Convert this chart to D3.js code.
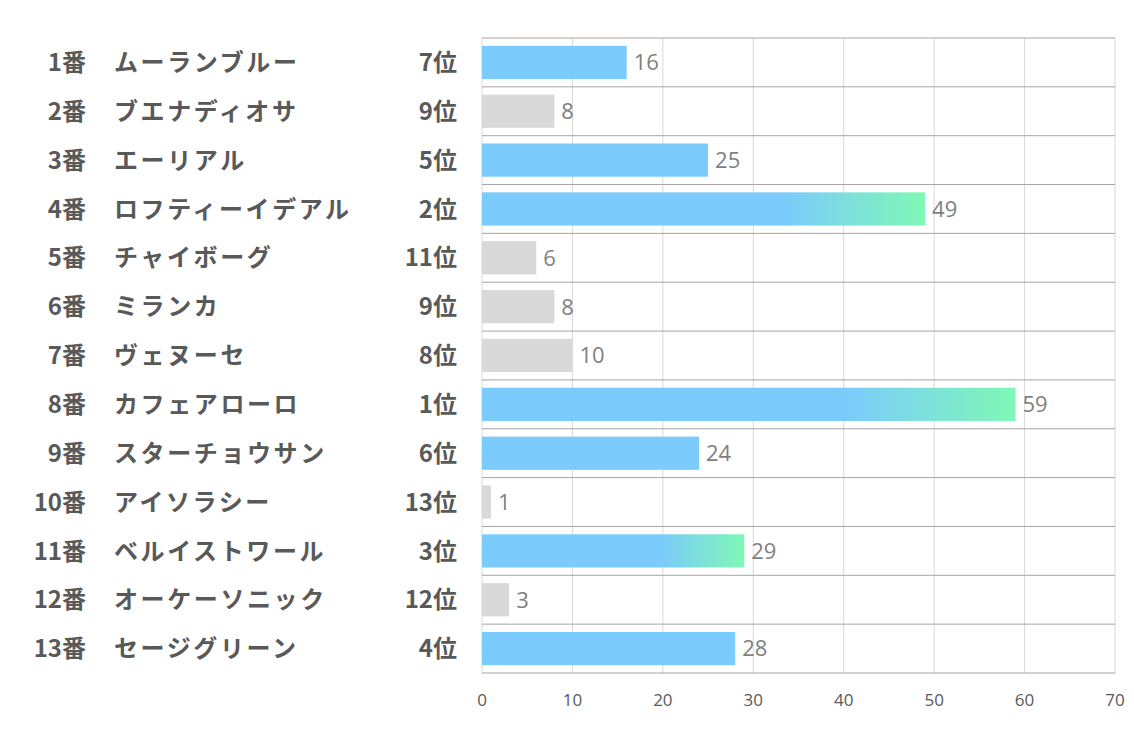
<!DOCTYPE html>
<html><head><meta charset="utf-8">
<script src="https://cdn.jsdelivr.net/npm/d3@7"></script>
<style>body{margin:0;background:#fff;}</style>
</head><body>
<svg id="c" width="1134" height="737"></svg>
<script>
const nums = ["1番","2番","3番","4番","5番","6番","7番","8番","9番","10番","11番","12番","13番"];
const names = ["ムーランブルー","ブエナディオサ","エーリアル","ロフティーイデアル","チャイボーグ","ミランカ","ヴェヌーセ","カフェアローロ","スターチョウサン","アイソラシー","ベルイストワール","オーケーソニック","セージグリーン"];
const ranks = [7,9,5,2,11,9,8,1,6,13,3,12,4];
const values = [16,8,25,49,6,8,10,59,24,1,29,3,28];
const ticks = [0,10,20,30,40,50,60,70];

const svg = d3.select("#c");
const x = d3.scaleLinear().domain([0,70]).range([482,1115]);
const step = 635/nums.length;
const defs = svg.append("defs");
const grad = defs.append("linearGradient").attr("id","g").attr("x1","0").attr("x2","1").attr("y1","0").attr("y2","0");
grad.append("stop").attr("offset","0.68").attr("stop-color","#7BCBFC");
grad.append("stop").attr("offset","1").attr("stop-color","#7FF8B6");

// vertical grid
svg.append("g").selectAll("line").data(ticks).join("line")
  .attr("x1",d=>x(d)).attr("x2",d=>x(d)).attr("y1",38).attr("y2",673)
  .attr("stroke","#d9d9d9").attr("stroke-width",1);
// horizontal grid (row boundaries)
svg.append("g").selectAll("line").data(d3.range(nums.length+1)).join("line")
  .attr("x1",x(0)).attr("x2",x(70))
  .attr("y1",i=>38+i*step).attr("y2",i=>38+i*step)
  .attr("stroke","#a6a6a6").attr("stroke-width",1);

function fill(i){ const r = ranks[i]; return r<=3 ? "url(#g)" : (r<=7 ? "#7BCBFC" : "#D9D9D9"); }
const rowC = i => 38 + step*(i+0.5);
const bh = step*0.68;
svg.append("g").selectAll("rect").data(values).join("rect")
  .attr("x",x(0)).attr("y",(d,i)=>rowC(i)-bh/2)
  .attr("width",d=>x(d)-x(0)).attr("height",bh)
  .attr("fill",(d,i)=>fill(i));

svg.append("g").selectAll("text").data(values).join("text")
  .attr("x",d=>x(d)+7).attr("y",(d,i)=>rowC(i)).attr("dy","0.36em")
  .attr("font-family","Open Sans").attr("font-size",22).attr("fill","#7f7f7f")
  .text(d=>d);

const lab = {"font-family":"Noto Sans CJK JP","font-weight":"bold","font-size":24,"fill":"#595959"};
function st(sel){ for (const k in lab) sel.attr(k,lab[k]); return sel; }
st(svg.append("g").selectAll("text").data(nums).join("text")
  .attr("x",86).attr("y",(d,i)=>rowC(i)).attr("dy","0.36em").attr("text-anchor","end").text(d=>d));
st(svg.append("g").selectAll("text").data(names).join("text")
  .attr("x",114).attr("y",(d,i)=>rowC(i)).attr("dy","0.36em").attr("letter-spacing","2.6px").text(d=>d));
st(svg.append("g").selectAll("text").data(ranks).join("text")
  .attr("x",457).attr("y",(d,i)=>rowC(i)).attr("dy","0.36em").attr("text-anchor","end").text(d=>d+"位"));

svg.append("g").selectAll("text").data(ticks).join("text")
  .attr("x",d=>x(d)).attr("y",700).attr("dy","0.36em").attr("text-anchor","middle")
  .attr("font-family","Open Sans").attr("font-size",17).attr("fill","#595959").text(d=>d);
</script>
</body></html>
